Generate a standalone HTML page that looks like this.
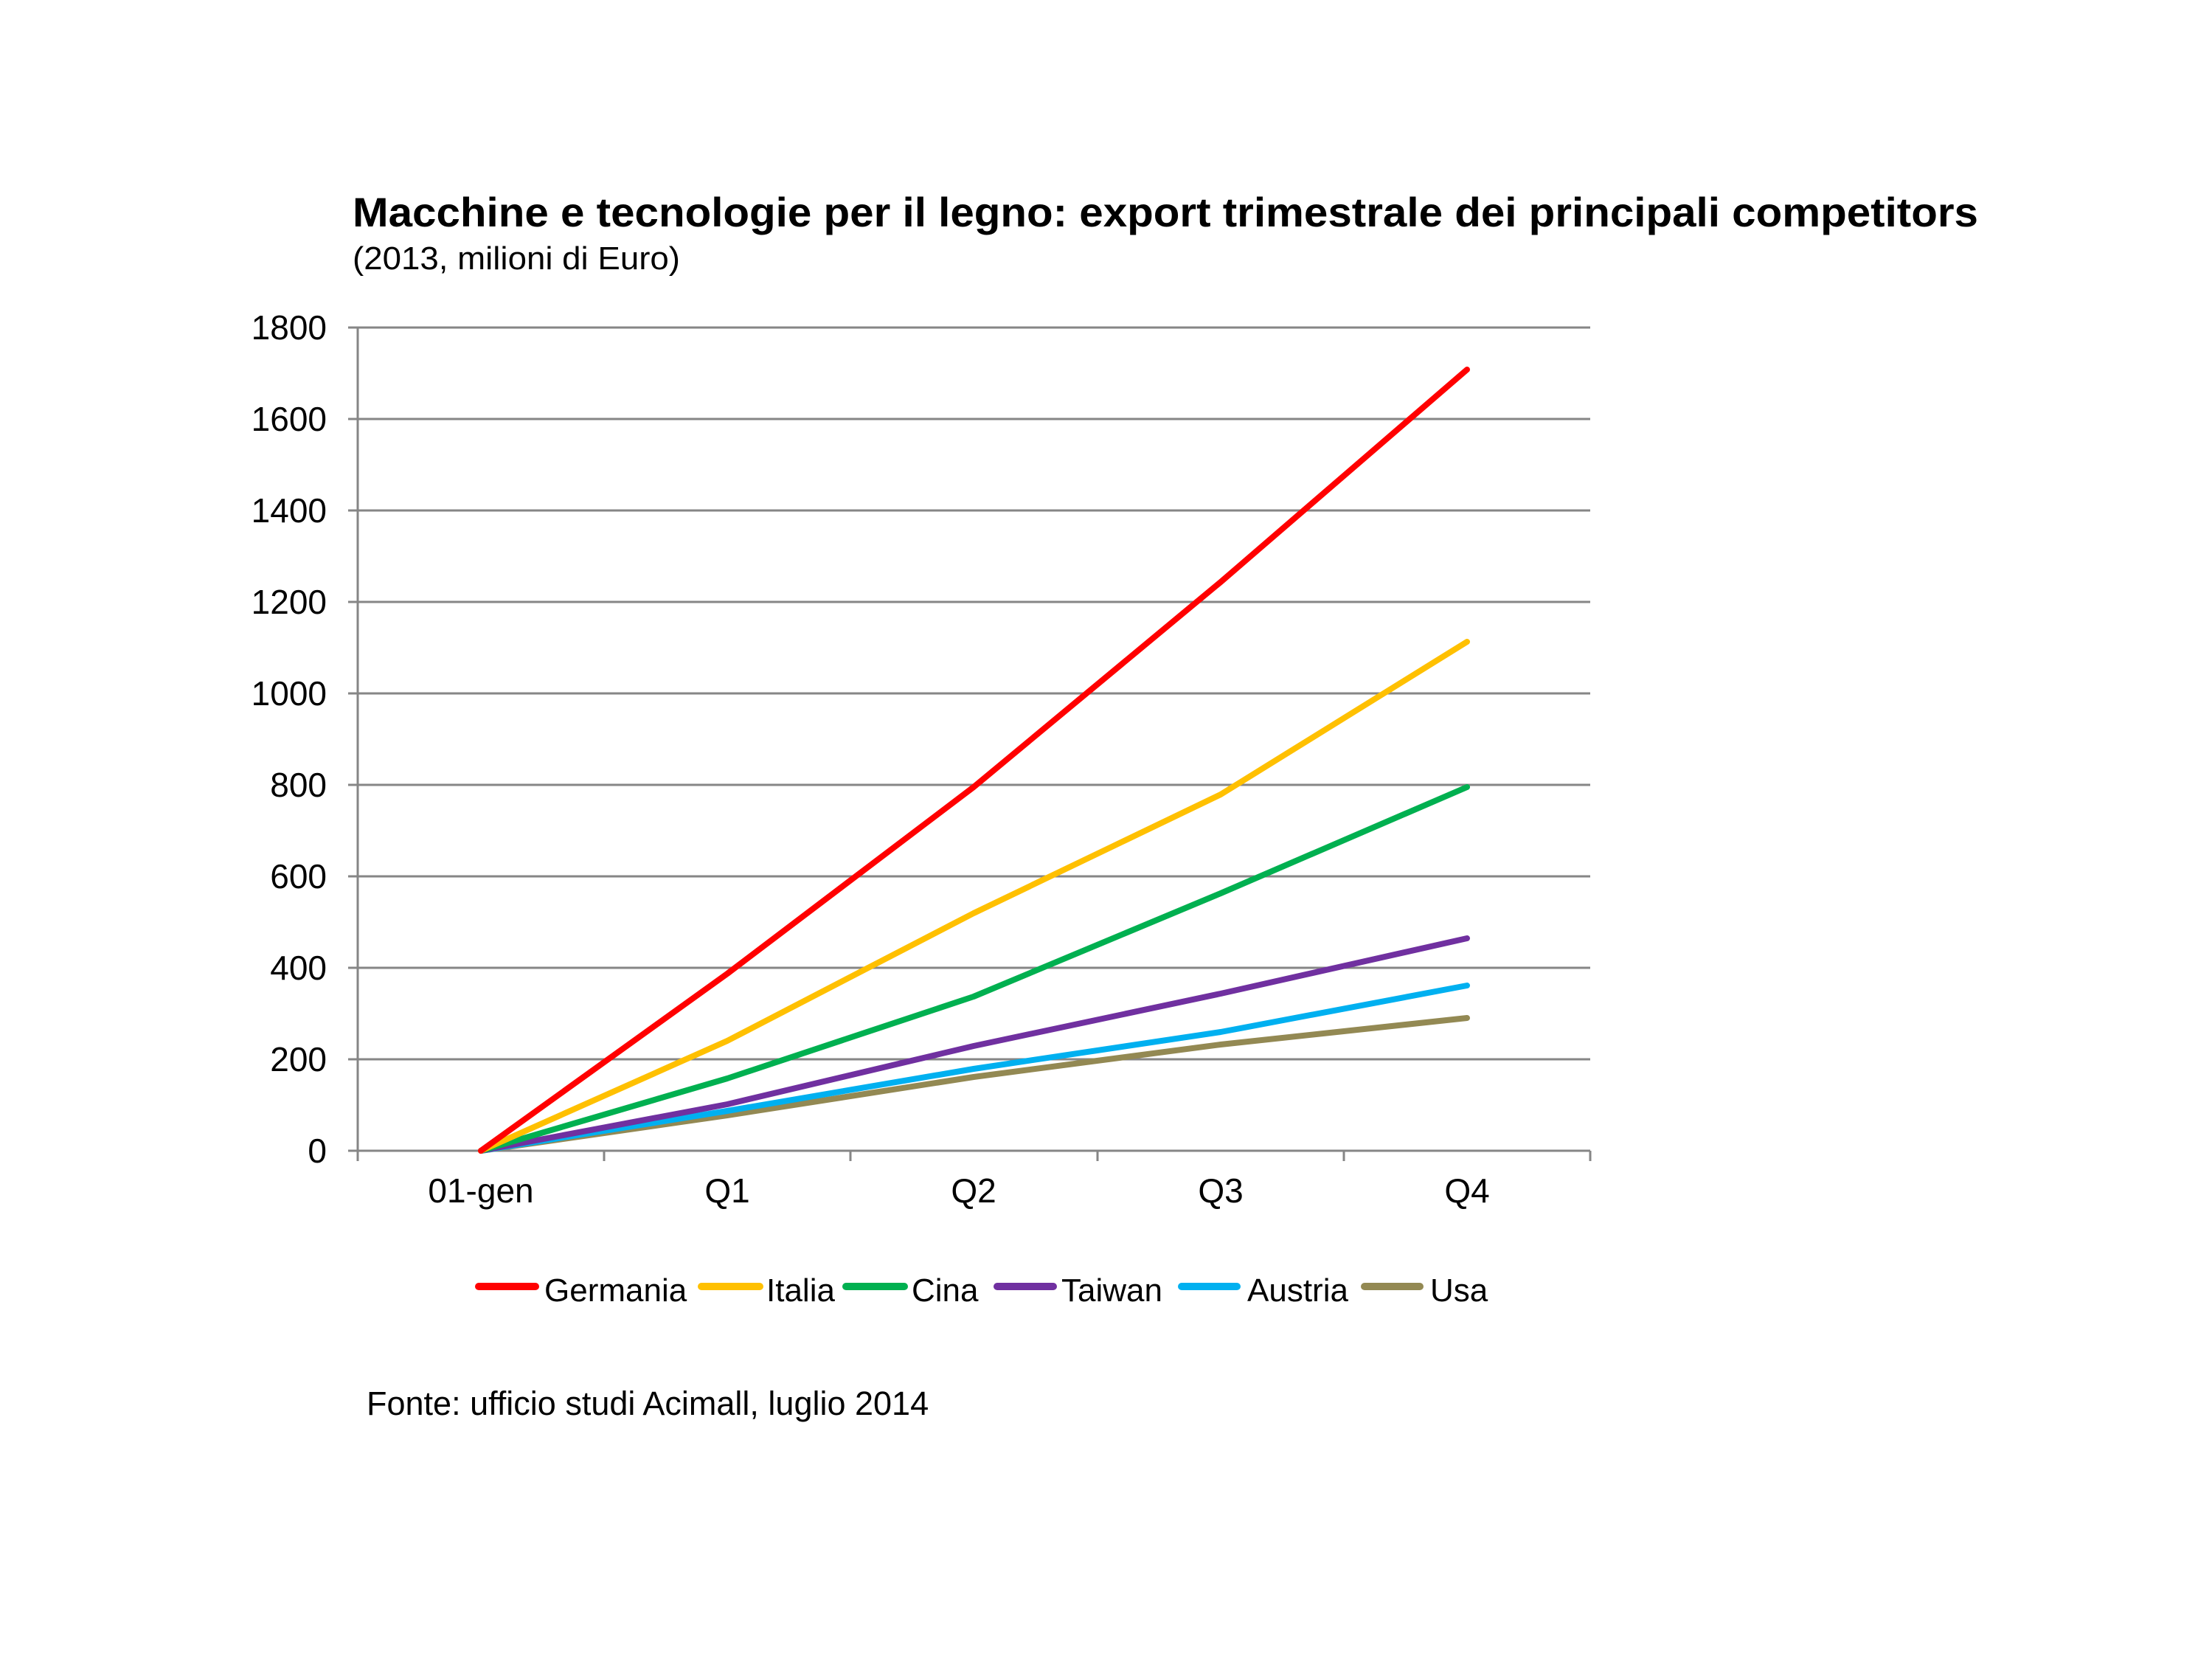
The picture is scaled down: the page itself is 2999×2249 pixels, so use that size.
<!DOCTYPE html>
<html><head><meta charset="utf-8"><style>
html,body{margin:0;padding:0;background:#fff;}
svg{display:block;}
text{font-family:"Liberation Sans",Arial,sans-serif;fill:#000;}
</style></head><body>
<svg width="2999" height="2249" viewBox="0 0 2999 2249" xmlns="http://www.w3.org/2000/svg">
<rect width="2999" height="2249" fill="#fff"/>
<text x="478" y="307" font-size="56" font-weight="bold" textLength="2204" lengthAdjust="spacingAndGlyphs">Macchine e tecnologie per il legno: export trimestrale dei principali competitors</text>
<text x="478" y="365" font-size="44" textLength="444" lengthAdjust="spacingAndGlyphs">(2013, milioni di Euro)</text>
<g stroke="#868686" stroke-width="3">
<line x1="472" y1="444" x2="2156" y2="444"/>
<line x1="472" y1="568" x2="2156" y2="568"/>
<line x1="472" y1="692" x2="2156" y2="692"/>
<line x1="472" y1="816" x2="2156" y2="816"/>
<line x1="472" y1="940" x2="2156" y2="940"/>
<line x1="472" y1="1064" x2="2156" y2="1064"/>
<line x1="472" y1="1188" x2="2156" y2="1188"/>
<line x1="472" y1="1312" x2="2156" y2="1312"/>
<line x1="472" y1="1436" x2="2156" y2="1436"/>
<line x1="472" y1="1560" x2="2156" y2="1560"/>
<line x1="485" y1="444" x2="485" y2="1574"/>
<line x1="819" y1="1560" x2="819" y2="1574"/>
<line x1="1153" y1="1560" x2="1153" y2="1574"/>
<line x1="1488" y1="1560" x2="1488" y2="1574"/>
<line x1="1822" y1="1560" x2="1822" y2="1574"/>
<line x1="2156" y1="1560" x2="2156" y2="1574"/>
</g>
<g font-size="46" text-anchor="end">
<text x="443" y="460">1800</text>
<text x="443" y="584">1600</text>
<text x="443" y="708">1400</text>
<text x="443" y="832">1200</text>
<text x="443" y="956">1000</text>
<text x="443" y="1080">800</text>
<text x="443" y="1204">600</text>
<text x="443" y="1328">400</text>
<text x="443" y="1452">200</text>
<text x="443" y="1576">0</text>
</g>
<g font-size="46" text-anchor="middle">
<text x="652" y="1630">01-gen</text>
<text x="986" y="1630">Q1</text>
<text x="1320" y="1630">Q2</text>
<text x="1655" y="1630">Q3</text>
<text x="1989" y="1630">Q4</text>
</g>
<g fill="none" stroke-width="8" stroke-linecap="round" stroke-linejoin="round">
<polyline stroke="#938953" points="652,1560 986,1512 1320,1460 1655,1416 1989,1380"/>
<polyline stroke="#00b0f0" points="652,1560 986,1506 1320,1449 1655,1399 1989,1336"/>
<polyline stroke="#7030a0" points="652,1560 986,1497 1320,1418 1655,1347 1989,1272"/>
<polyline stroke="#00b050" points="652,1560 986,1462 1320,1351 1655,1211 1989,1067"/>
<polyline stroke="#ffc000" points="652,1560 986,1411 1320,1238 1655,1077 1989,870"/>
<polyline stroke="#ff0000" points="652,1560 986,1320 1320,1067 1655,789 1989,501"/>
</g>
<g stroke-width="10" stroke-linecap="round">
<line x1="649" y1="1744" x2="726" y2="1744" stroke="#ff0000"/>
<line x1="951" y1="1744" x2="1030" y2="1744" stroke="#ffc000"/>
<line x1="1147" y1="1744" x2="1226" y2="1744" stroke="#00b050"/>
<line x1="1352" y1="1744" x2="1428" y2="1744" stroke="#7030a0"/>
<line x1="1602" y1="1744" x2="1677" y2="1744" stroke="#00b0f0"/>
<line x1="1850" y1="1744" x2="1925" y2="1744" stroke="#938953"/>
</g>
<g font-size="44">
<text x="738" y="1764">Germania</text>
<text x="1039" y="1764">Italia</text>
<text x="1236" y="1764">Cina</text>
<text x="1439" y="1764">Taiwan</text>
<text x="1691" y="1764">Austria</text>
<text x="1939" y="1764">Usa</text>
</g>
<text x="497" y="1918" font-size="45">Fonte: ufficio studi Acimall, luglio 2014</text>
</svg>
</body></html>
